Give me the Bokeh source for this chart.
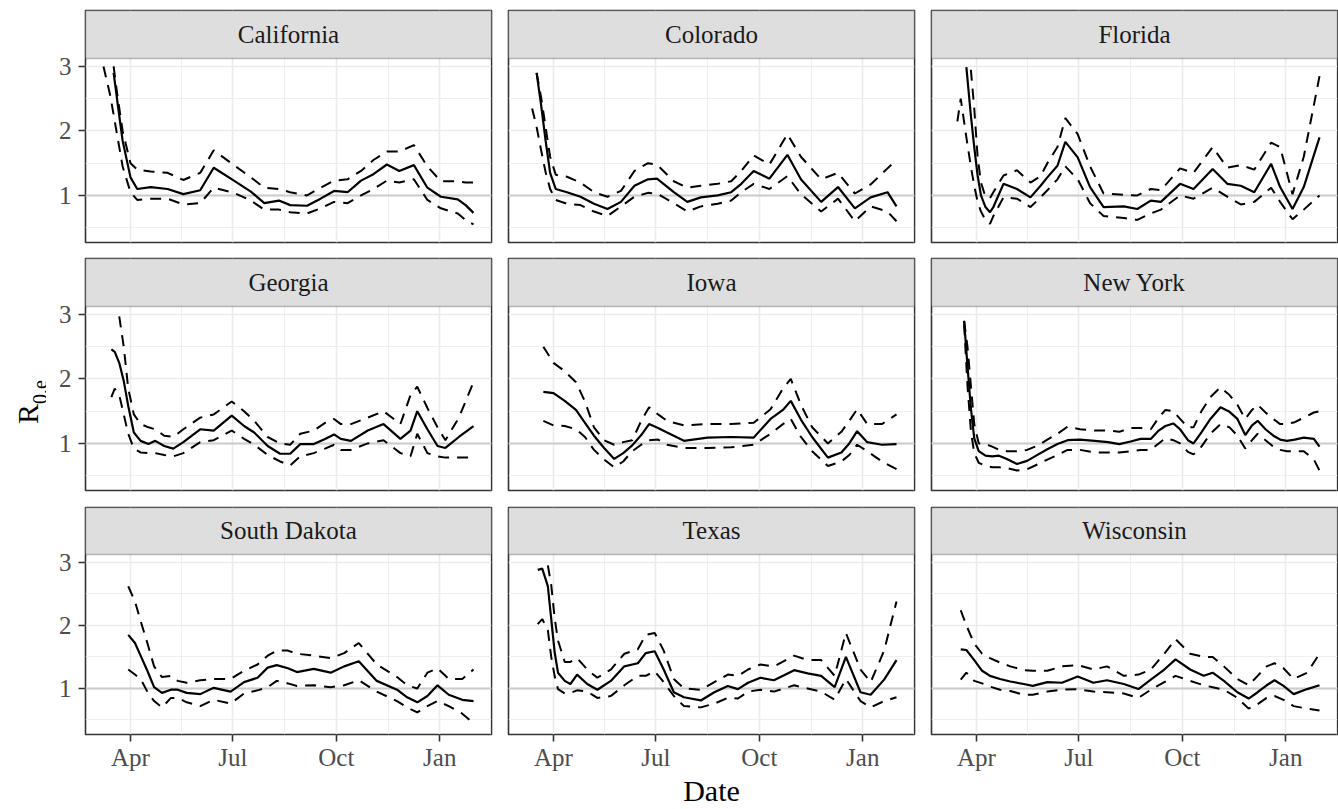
import numpy as np
from bokeh.plotting import figure
from bokeh.layouts import row, column
from bokeh.models import (Range1d, FixedTicker, DatetimeTickFormatter, BoxAnnotation,
                          Label, Span, ColumnDataSource, Grid)
from bokeh.embed import file_html
from bokeh.resources import INLINE

nan = float("nan")

# ---------------- data (days are offsets from 2020-04-01) ----------------
BASE_DATE = "2020-04-01"
X_START_DATE = "2020-02-21"
X_END_DATE = "2021-02-16"
major_dates = ["2020-04-01", "2020-07-01", "2020-10-01", "2021-01-01"]
minor_dates = ["2020-05-16", "2020-08-16", "2020-11-16", "2021-02-15"]
y_ticks = [1, 2, 3]
y_minor = [0.5, 1.5, 2.5]
Y_LO, Y_HI = 0.27, 3.124

states = ["California", "Colorado", "Florida", "Georgia", "Iowa", "New York",
          "South Dakota", "Texas", "Wisconsin"]

ca_day = [-24, -18, -15, -12, -7, 0, 6, 18, 33, 47, 62, 74, 92, 107, 119, 132, 142, 157, 169, 181, 193, 205, 216, 228, 239, 252, 264, 276, 291, 298, 305]
ca_mid = [nan, nan, 2.9, 2.5, 1.85, 1.28, 1.1, 1.13, 1.1, 1.02, 1.08, 1.43, 1.23, 1.06, 0.88, 0.92, 0.85, 0.84, 0.95, 1.07, 1.05, 1.23, 1.33, 1.48, 1.38, 1.47, 1.12, 0.98, 0.94, 0.85, 0.73]
ca_hi = [nan, nan, 3.0, 2.6, 2.0, 1.5, 1.4, 1.37, 1.35, 1.24, 1.35, 1.70, 1.47, 1.28, 1.12, 1.1, 1.05, 1.0, 1.12, 1.23, 1.25, 1.38, 1.55, 1.68, 1.68, 1.78, 1.45, 1.22, 1.22, 1.2, 1.2]
ca_lo = [3.0, 2.55, 2.25, 1.95, 1.45, 1.05, 0.93, 0.95, 0.95, 0.86, 0.88, 1.12, 1.04, 0.92, 0.78, 0.78, 0.74, 0.72, 0.80, 0.90, 0.88, 1.0, 1.1, 1.23, 1.2, 1.25, 0.93, 0.8, 0.72, 0.62, 0.55]

co_day = [-19, -15, -11, -7, -3, 2, 12, 24, 36, 48, 60, 72, 84, 92, 107, 119, 131, 146, 158, 167, 178, 192, 208, 220, 238, 253, 268, 282, 297, 305]
co_mid = [nan, 2.9, 2.4, 1.85, 1.35, 1.1, 1.05, 0.98, 0.87, 0.79, 0.9, 1.15, 1.25, 1.26, 1.05, 0.9, 0.97, 1.0, 1.05, 1.18, 1.38, 1.26, 1.63, 1.25, 0.9, 1.13, 0.8, 0.97, 1.05, 0.83]
co_hi = [nan, 2.9, 2.52, 2.06, 1.6, 1.32, 1.29, 1.2, 1.05, 0.98, 1.07, 1.38, 1.5, 1.48, 1.22, 1.12, 1.15, 1.18, 1.22, 1.38, 1.62, 1.48, 1.95, 1.6, 1.25, 1.35, 1.03, 1.17, 1.42, 1.55]
co_lo = [2.35, 2.06, 1.7, 1.36, 1.1, 0.93, 0.87, 0.85, 0.75, 0.68, 0.83, 0.98, 1.04, 1.03, 0.88, 0.75, 0.83, 0.87, 0.92, 1.05, 1.18, 1.1, 1.3, 1.02, 0.75, 0.95, 0.6, 0.83, 0.75, 0.6]

fl_day = [-17, -14, -9, -5, -2, 1, 4, 8, 12, 15, 24, 36, 48, 57, 63, 72, 79, 90, 101, 113, 131, 143, 155, 164, 181, 193, 210, 223, 235, 247, 262, 270, 281, 291, 305]
fl_mid = [nan, nan, 2.99, 2.24, 1.75, 1.31, 1.0, 0.82, 0.74, 0.82, 1.18, 1.1, 0.97, 1.15, 1.28, 1.46, 1.83, 1.59, 1.13, 0.82, 0.83, 0.79, 0.92, 0.9, 1.18, 1.1, 1.41, 1.18, 1.15, 1.05, 1.49, 1.13, 0.79, 1.13, 1.9]
fl_hi = [nan, nan, nan, 2.95, 2.35, 1.6, 1.2, 0.98, 0.96, 1.05, 1.31, 1.39, 1.2, 1.3, 1.5, 1.75, 2.2, 1.95, 1.45, 1.03, 1.01, 1.0, 1.1, 1.08, 1.42, 1.35, 1.75, 1.43, 1.47, 1.4, 1.82, 1.75, 1.02, 1.6, 2.85]
fl_lo = [2.15, 2.5, 1.9, 1.45, 1.15, 0.9, 0.75, 0.62, 0.56, 0.68, 0.97, 0.95, 0.82, 0.97, 1.08, 1.25, 1.45, 1.25, 0.88, 0.68, 0.65, 0.62, 0.72, 0.78, 1.0, 0.95, 1.12, 0.98, 0.86, 0.9, 1.12, 0.9, 0.63, 0.78, 1.0]

ga_day = [-17, -14, -10, -6, -2, 3, 9, 16, 22, 30, 38, 47, 62, 74, 90, 101, 110, 122, 133, 142, 151, 163, 173, 181, 187, 196, 211, 225, 240, 249, 255, 264, 273, 280, 292, 305]
ga_mid = [2.46, 2.42, 2.25, 1.97, 1.58, 1.17, 1.04, 0.99, 1.04, 0.96, 0.92, 1.02, 1.22, 1.2, 1.43, 1.27, 1.17, 0.96, 0.84, 0.84, 0.99, 0.99, 1.07, 1.14, 1.07, 1.04, 1.2, 1.3, 1.07, 1.2, 1.5, 1.22, 0.96, 0.93, 1.1, 1.27]
ga_hi = [nan, nan, 2.97, 2.5, 1.85, 1.45, 1.3, 1.25, 1.22, 1.12, 1.1, 1.22, 1.4, 1.45, 1.65, 1.5, 1.35, 1.1, 1.0, 0.98, 1.15, 1.2, 1.32, 1.38, 1.3, 1.3, 1.4, 1.5, 1.3, 1.75, 1.88, 1.55, 1.25, 1.05, 1.4, 1.95]
ga_lo = [1.72, 1.85, 1.75, 1.45, 1.15, 0.92, 0.86, 0.85, 0.85, 0.82, 0.8, 0.85, 1.02, 1.05, 1.2, 1.07, 0.98, 0.82, 0.72, 0.66, 0.8, 0.85, 0.92, 0.98, 0.9, 0.9, 1.0, 1.05, 0.85, 0.8, 1.15, 0.85, 0.8, 0.78, 0.78, 0.78]

ia_day = [-9, 0, 10, 20, 28, 36, 45, 54, 62, 70, 78, 85, 93, 101, 116, 137, 158, 178, 193, 204, 211, 220, 230, 244, 256, 263, 270, 279, 292, 305]
ia_mid = [1.8, 1.78, 1.66, 1.52, 1.32, 1.12, 0.93, 0.76, 0.85, 0.97, 1.13, 1.3, 1.24, 1.17, 1.04, 1.09, 1.1, 1.09, 1.38, 1.52, 1.66, 1.37, 1.1, 0.78, 0.86, 1.0, 1.19, 1.02, 0.98, 0.99]
ia_hi = [2.5, 2.25, 2.12, 1.95, 1.65, 1.25, 1.05, 0.98, 1.02, 1.05, 1.35, 1.56, 1.45, 1.35, 1.28, 1.3, 1.3, 1.32, 1.53, 1.85, 2.0, 1.6, 1.25, 1.0, 1.18, 1.35, 1.53, 1.3, 1.3, 1.45]
ia_lo = [1.35, 1.28, 1.27, 1.22, 1.1, 0.9, 0.75, 0.63, 0.72, 0.88, 0.98, 1.05, 1.06, 0.98, 0.93, 0.93, 0.94, 0.98, 1.15, 1.3, 1.38, 1.1, 0.88, 0.65, 0.72, 0.82, 0.98, 0.88, 0.72, 0.6]

ny_day = [-11, -8, -5, -2, 2, 8, 14, 20, 27, 36, 45, 55, 63, 72, 81, 92, 105, 117, 127, 137, 146, 155, 162, 168, 175, 181, 188, 193, 200, 208, 217, 225, 232, 239, 245, 250, 257, 264, 270, 276, 283, 291, 300, 305]
ny_mid = [2.9, 2.2, 1.55, 1.08, 0.88, 0.81, 0.8, 0.81, 0.76, 0.68, 0.73, 0.83, 0.91, 0.99, 1.05, 1.06, 1.04, 1.02, 0.99, 1.03, 1.07, 1.07, 1.2, 1.27, 1.31, 1.22, 1.05, 1.0, 1.17, 1.38, 1.56, 1.49, 1.38, 1.13, 1.28, 1.35, 1.22, 1.12, 1.06, 1.04, 1.06, 1.09, 1.07, 0.95]
ny_hi = [2.9, 2.5, 1.9, 1.3, 1.0, 0.99, 0.95, 0.9, 0.88, 0.88, 0.9, 0.97, 1.06, 1.15, 1.26, 1.22, 1.2, 1.2, 1.18, 1.24, 1.24, 1.22, 1.4, 1.52, 1.5, 1.38, 1.25, 1.25, 1.5, 1.72, 1.87, 1.75, 1.6, 1.38, 1.52, 1.6, 1.48, 1.38, 1.3, 1.3, 1.33, 1.4, 1.48, 1.5]
ny_lo = [2.85, 1.9, 1.2, 0.85, 0.7, 0.65, 0.63, 0.63, 0.62, 0.58, 0.6, 0.68, 0.75, 0.82, 0.9, 0.9, 0.86, 0.86, 0.86, 0.88, 0.9, 0.9, 1.0, 1.08, 1.05, 1.0, 0.87, 0.83, 0.95, 1.15, 1.3, 1.25, 1.12, 0.92, 1.05, 1.15, 1.05, 0.95, 0.9, 0.88, 0.88, 0.88, 0.75, 0.58]

sd_day = [-2, 4, 9, 15, 21, 28, 36, 42, 50, 62, 74, 89, 101, 113, 122, 130, 140, 148, 163, 178, 190, 203, 219, 237, 246, 255, 264, 273, 283, 295, 305]
sd_mid = [1.85, 1.72, 1.52, 1.28, 1.02, 0.93, 0.98, 0.98, 0.93, 0.91, 1.01, 0.95, 1.1, 1.17, 1.33, 1.37, 1.32, 1.26, 1.31, 1.25, 1.35, 1.43, 1.12, 0.98, 0.86, 0.78, 0.88, 1.05, 0.9, 0.82, 0.8]
sd_hi = [2.62, 2.38, 2.07, 1.72, 1.35, 1.18, 1.2, 1.12, 1.09, 1.13, 1.15, 1.15, 1.28, 1.38, 1.52, 1.6, 1.6, 1.55, 1.52, 1.48, 1.56, 1.72, 1.38, 1.18, 1.05, 1.0, 1.25, 1.32, 1.15, 1.15, 1.3]
sd_lo = [1.3, 1.22, 1.15, 0.95, 0.8, 0.7, 0.85, 0.85, 0.78, 0.72, 0.82, 0.76, 0.92, 0.97, 1.02, 1.12, 1.08, 1.04, 1.05, 1.02, 1.05, 1.13, 0.95, 0.8, 0.7, 0.62, 0.72, 0.8, 0.72, 0.6, 0.45]

tx_day = [-14, -10, -5, -2, 1, 4, 10, 15, 21, 30, 39, 51, 63, 75, 82, 90, 98, 107, 116, 131, 143, 155, 164, 173, 184, 196, 214, 226, 238, 250, 260, 273, 282, 294, 305]
tx_mid = [2.88, 2.9, 2.62, 2.1, 1.58, 1.25, 1.12, 1.07, 1.22, 1.07, 0.98, 1.12, 1.35, 1.4, 1.56, 1.59, 1.3, 0.94, 0.86, 0.81, 0.94, 1.04, 0.99, 1.09, 1.17, 1.13, 1.29, 1.24, 1.2, 1.02, 1.5, 0.94, 0.9, 1.14, 1.45]
tx_hi = [nan, nan, 2.95, 2.64, 2.12, 1.76, 1.42, 1.42, 1.48, 1.3, 1.17, 1.3, 1.55, 1.62, 1.85, 1.88, 1.6, 1.15, 1.0, 0.98, 1.1, 1.22, 1.2, 1.3, 1.38, 1.35, 1.52, 1.45, 1.45, 1.2, 1.88, 1.3, 1.1, 1.6, 2.38]
tx_lo = [2.02, 2.1, 1.92, 1.5, 1.2, 0.99, 0.92, 0.93, 0.97, 0.95, 0.85, 0.88, 1.05, 1.2, 1.2, 1.27, 1.1, 0.88, 0.72, 0.7, 0.76, 0.85, 0.84, 0.95, 0.98, 0.95, 1.05, 1.0, 0.95, 0.82, 1.15, 0.8, 0.7, 0.8, 0.86]

wi_day = [-14, -9, -2, 5, 12, 21, 30, 42, 50, 63, 76, 90, 104, 116, 131, 144, 155, 167, 177, 190, 202, 210, 220, 232, 242, 250, 258, 265, 273, 282, 294, 305]
wi_mid = [1.62, 1.61, 1.45, 1.28, 1.2, 1.15, 1.11, 1.07, 1.04, 1.1, 1.09, 1.19, 1.09, 1.13, 1.07, 0.99, 1.14, 1.3, 1.46, 1.3, 1.2, 1.25, 1.12, 0.94, 0.84, 0.94, 1.05, 1.13, 1.04, 0.91, 0.99, 1.05]
wi_hi = [2.24, 2.0, 1.71, 1.55, 1.48, 1.41, 1.35, 1.29, 1.28, 1.28, 1.35, 1.37, 1.3, 1.35, 1.2, 1.22, 1.3, 1.55, 1.78, 1.55, 1.5, 1.5, 1.35, 1.15, 1.05, 1.2, 1.35, 1.4, 1.32, 1.15, 1.25, 1.55]
wi_lo = [1.14, 1.25, 1.12, 1.08, 1.03, 0.98, 0.96, 0.9, 0.9, 0.95, 0.98, 0.99, 0.95, 0.94, 0.92, 0.85, 0.98, 1.1, 1.2, 1.12, 1.05, 1.02, 0.98, 0.85, 0.68, 0.75, 0.85, 0.88, 0.82, 0.72, 0.68, 0.65]

series = {
    "California": (ca_day, ca_mid, ca_lo, ca_hi),
    "Colorado": (co_day, co_mid, co_lo, co_hi),
    "Florida": (fl_day, fl_mid, fl_lo, fl_hi),
    "Georgia": (ga_day, ga_mid, ga_lo, ga_hi),
    "Iowa": (ia_day, ia_mid, ia_lo, ia_hi),
    "New York": (ny_day, ny_mid, ny_lo, ny_hi),
    "South Dakota": (sd_day, sd_mid, sd_lo, sd_hi),
    "Texas": (tx_day, tx_mid, tx_lo, tx_hi),
    "Wisconsin": (wi_day, wi_mid, wi_lo, wi_hi),
}

# ---------------- layout constants ----------------
FONT = "Liberation Serif"
PW = 406          # panel frame width
STRIP_H = 48      # strip height (px)
PLOT_H = 184      # data area height (px)
FH = STRIP_H + PLOT_H
YL_W = 46
COL_LEFT = [39, 9, 9]
COL_RIGHT = [8, 8, 1]
ROW_TOP = [10, 8, 9]
ROW_BOTTOM = [8, 8, 70]
BORDER = "#333333"
Y_TOP = Y_HI + (Y_HI - Y_LO) * STRIP_H / PLOT_H

DAY_MS = 86400000


def ms(d):
    return float(np.datetime64(d, "D").astype(np.int64)) * DAY_MS


base_ms = ms(BASE_DATE)
x0, x1 = ms(X_START_DATE), ms(X_END_DATE)
major_ms = [ms(d) for d in major_dates]
minor_ms = [ms(d) for d in minor_dates]


def make_panel(r, c, name):
    left, right = COL_LEFT[c], COL_RIGHT[c]
    top, bottom = ROW_TOP[r], ROW_BOTTOM[r]
    p = figure(width=left + PW + right, height=top + FH + bottom,
               x_range=Range1d(x0, x1), y_range=Range1d(Y_LO, Y_TOP),
               x_axis_type="datetime",
               x_axis_location="below" if r == 2 else None,
               y_axis_location="left" if c == 0 else None,
               toolbar_location=None, output_backend="svg", title=None,
               min_border_left=left, min_border_right=right,
               min_border_top=top, min_border_bottom=bottom)
    p.background_fill_color = "white"
    p.border_fill_color = "white"
    p.outline_line_color = BORDER
    p.outline_line_width = 1.6

    xt = FixedTicker(ticks=major_ms, minor_ticks=minor_ms)
    yt = FixedTicker(ticks=y_ticks, minor_ticks=y_minor)
    if len(p.xgrid) == 0:
        p.add_layout(Grid(dimension=0, ticker=xt))
    if len(p.ygrid) == 0:
        p.add_layout(Grid(dimension=1, ticker=yt))
    p.xgrid.ticker = xt
    p.ygrid.ticker = yt
    for g in list(p.xgrid) + list(p.ygrid):
        g.grid_line_color = "#ebebeb"
        g.grid_line_width = 1.6
        g.minor_grid_line_color = "#ebebeb"
        g.minor_grid_line_width = 0.8

    axes = []
    if r == 2:
        ax = p.xaxis[0]
        ax.ticker = xt
        ax.formatter = DatetimeTickFormatter(days="%b", months="%b", years="%b")
        axes.append(ax)
        if c == 1:
            ax.axis_label = "Date"
            ax.axis_label_text_font = FONT
            ax.axis_label_text_font_size = "30px"
            ax.axis_label_text_font_style = "normal"
            ax.axis_label_text_color = "black"
            ax.axis_label_standoff = 0
    if c == 0:
        ax = p.yaxis[0]
        ax.ticker = yt
        axes.append(ax)
    for ax in axes:
        ax.axis_line_color = None
        ax.major_tick_line_color = BORDER
        ax.major_tick_line_width = 1.6
        ax.major_tick_out = 7
        ax.major_tick_in = 0
        ax.minor_tick_line_color = None
        ax.major_label_text_font = FONT
        ax.major_label_text_font_size = "25px"
        ax.major_label_text_color = "#4d4d4d"
    if r == 2:
        p.xaxis[0].major_label_standoff = 2
    if c == 0:
        p.yaxis[0].major_label_standoff = 7

    p.add_layout(Span(location=1, dimension="width", line_color="#cccccc",
                      line_width=2, level="underlay"))

    days, mid, lo, hi = series[name]
    xs = [base_ms + d * DAY_MS for d in days]
    src = ColumnDataSource(dict(x=xs, mid=mid, lo=lo, hi=hi))
    p.line("x", "lo", source=src, line_color="black", line_width=2, line_dash="11 8")
    p.line("x", "hi", source=src, line_color="black", line_width=2, line_dash="11 8")
    p.line("x", "mid", source=src, line_color="black", line_width=2.2)

    p.add_layout(BoxAnnotation(bottom=Y_HI, top=Y_TOP, fill_color="#dedede", fill_alpha=1,
                               line_color=BORDER, line_width=1.6))
    p.add_layout(Label(x=(x0 + x1) / 2, y=(Y_HI + Y_TOP) / 2, text=name,
                       text_align="center", text_baseline="middle",
                       text_font=FONT, text_font_size="25px", text_color="#1a1a1a"))
    return p


panels = [make_panel(i // 3, i % 3, s) for i, s in enumerate(states)]
rows = [row(*panels[3 * k:3 * k + 3]) for k in range(3)]
grid = column(*rows)

row_h = [ROW_TOP[k] + FH + ROW_BOTTOM[k] for k in range(3)]
TOTAL_H = sum(row_h)
data_top = ROW_TOP[0] + STRIP_H
data_bottom = TOTAL_H - ROW_BOTTOM[2]
center_from_top = (data_top + data_bottom) / 2 + 3

yl = figure(width=YL_W, height=TOTAL_H, x_range=Range1d(0, YL_W), y_range=Range1d(0, TOTAL_H),
            toolbar_location=None, output_backend="svg", title=None, min_border=0,
            x_axis_location=None, y_axis_location=None)
yl.outline_line_color = None
yl.background_fill_color = "white"
yl.border_fill_color = "white"
for g in list(yl.xgrid) + list(yl.ygrid):
    g.visible = False

R_SIZE, SUB_SIZE = 30, 20
r_len = 0.667 * R_SIZE
sub_len = 1.194 * SUB_SIZE
join_from_top = center_from_top + (sub_len - r_len) / 2
join_y = TOTAL_H - join_from_top
yl.add_layout(Label(x=27, y=join_y, text="R", angle=np.pi / 2, text_align="right",
                    text_baseline="alphabetic", text_font=FONT,
                    text_font_size=f"{R_SIZE}px", text_color="black"))
yl.add_layout(Label(x=39, y=join_y, text="0,e", angle=np.pi / 2, text_align="left",
                    text_baseline="alphabetic", text_font=FONT,
                    text_font_size=f"{SUB_SIZE}px", text_color="black"))

layout = row(yl, grid)
open("out.html", "w").write(file_html(layout, INLINE))
